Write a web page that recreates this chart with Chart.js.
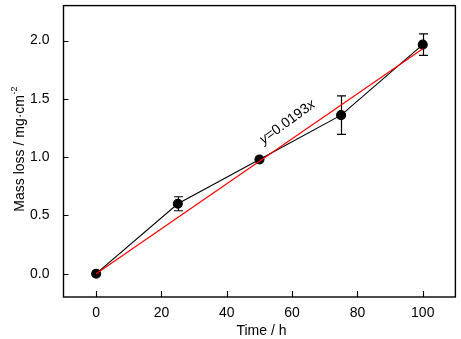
<!DOCTYPE html>
<html>
<head>
<meta charset="utf-8">
<script src="https://cdn.jsdelivr.net/npm/chart.js@4.4.1/dist/chart.umd.min.js"></script>
<style>
  html, body { margin: 0; padding: 0; background: #fff; }
  #wrap { width: 461px; height: 339px; }
</style>
</head>
<body>
<div id="wrap"><canvas id="c" width="461" height="339"></canvas></div>
<script>
// Mass loss measurements over time
const timeHours   = [0, 25, 50, 75, 100];
const massLoss    = [0.0, 0.60, 0.98, 1.36, 1.965];
const massLossErr = [0.0, 0.06, 0.0, 0.165, 0.092];

// Linear fit y = 0.0193x, drawn between its two end points
const fitLabelSlope = '0.0193';
const fitX = [0, 100];
const fitY = [0, 1.93];

// Axis ticks
const xTickValues = [0, 20, 40, 60, 80, 100];
const yTickValues = [0.0, 0.5, 1.0, 1.5, 2.0];

const FONT = '"Liberation Sans", Arial, sans-serif';
const AREA = { left: 63.5, top: 5, right: 455.5, bottom: 297 };

const framePlugin = {
  id: 'frame',
  beforeDatasetsDraw(chart) {
    const ctx = chart.ctx;
    const xs = chart.scales.x, ys = chart.scales.y;
    // error bars
    ctx.save();
    ctx.strokeStyle = '#000';
    ctx.lineWidth = 1.2;
    timeHours.forEach((t, i) => {
      const e = massLossErr[i];
      if (!e) return;
      const px = Math.round(xs.getPixelForValue(t)) + 0.5;
      const y1 = ys.getPixelForValue(massLoss[i] + e);
      const y2 = ys.getPixelForValue(massLoss[i] - e);
      ctx.beginPath();
      ctx.moveTo(px, y1); ctx.lineTo(px, y2);
      ctx.moveTo(px - 4.5, y1); ctx.lineTo(px + 4.5, y1);
      ctx.moveTo(px - 4.5, y2); ctx.lineTo(px + 4.5, y2);
      ctx.stroke();
    });
    ctx.restore();
  },
  afterDraw(chart) {
    const ctx = chart.ctx;
    const a = chart.chartArea;
    const xs = chart.scales.x, ys = chart.scales.y;
    ctx.save();
    ctx.strokeStyle = '#000';
    ctx.lineWidth = 1.4;
    ctx.strokeRect(a.left, a.top, a.right - a.left, a.bottom - a.top);
    // inward ticks
    ctx.lineWidth = 1.1;
    ctx.beginPath();
    xTickValues.forEach(v => {
      const px = Math.round(xs.getPixelForValue(v)) + 0.5;
      ctx.moveTo(px, a.bottom); ctx.lineTo(px, a.bottom - 6);
    });
    yTickValues.forEach(v => {
      const py = Math.round(ys.getPixelForValue(v)) + 0.5;
      ctx.moveTo(a.left, py); ctx.lineTo(a.left + 5, py);
    });
    ctx.stroke();

    // axis titles
    ctx.fillStyle = '#000';
    ctx.font = '14px ' + FONT;
    ctx.textAlign = 'center';
    ctx.textBaseline = 'alphabetic';
    ctx.fillText('Time / h', (a.left + a.right) / 2 + 2, 335);

    ctx.save();
    ctx.translate(24, (a.top + a.bottom) / 2);
    ctx.rotate(-Math.PI / 2);
    const main = 'Mass loss / mg\u00B7cm';
    const sup = '-2';
    ctx.font = '14px ' + FONT;
    const wMain = ctx.measureText(main).width;
    ctx.font = '9px ' + FONT;
    const wSup = ctx.measureText(sup).width;
    const start = -(wMain + wSup) / 2 + 2;
    ctx.textAlign = 'left';
    ctx.font = '14px ' + FONT;
    ctx.fillText(main, start, 0);
    ctx.font = '9px ' + FONT;
    ctx.fillText(sup, start + wMain + 0.5, -7);
    ctx.restore();

    // fit equation along the line
    const cx = xs.getPixelForValue(58.6);
    const cy = ys.getPixelForValue(1.30);
    ctx.save();
    ctx.translate(cx, cy);
    ctx.rotate(-36 * Math.PI / 180);
    ctx.textBaseline = 'middle';
    const parts = [
      { t: 'y', f: 'italic 14px ' + FONT },
      { t: '=' + fitLabelSlope, f: '14px ' + FONT },
      { t: 'x', f: 'italic 14px ' + FONT }
    ];
    let total = 0;
    parts.forEach(p => { ctx.font = p.f; p.w = ctx.measureText(p.t).width; total += p.w; });
    let xo = -total / 2;
    ctx.textAlign = 'left';
    parts.forEach(p => { ctx.font = p.f; ctx.fillText(p.t, xo, 0); xo += p.w; });
    ctx.restore();
    ctx.restore();
  }
};

new Chart(document.getElementById('c'), {
  type: 'scatter',
  data: {
    datasets: [
      {
        label: 'fit',
        data: fitX.map((x, i) => ({ x, y: fitY[i] })),
        showLine: true,
        borderColor: '#ff0000',
        borderWidth: 1.2,
        pointRadius: 0,
        order: 0
      },
      {
        label: 'mass loss',
        data: timeHours.map((x, i) => ({ x, y: massLoss[i] })),
        showLine: true,
        borderColor: '#000',
        borderWidth: 1.1,
        pointRadius: 4.5,
        pointBackgroundColor: '#000',
        pointBorderColor: '#000',
        order: 1
      }
    ]
  },
  options: {
    responsive: false,
    devicePixelRatio: 1,
    animation: false,
    layout: { padding: { left: 0, top: AREA.top, right: 461 - AREA.right, bottom: 0 } },
    plugins: { legend: { display: false }, tooltip: { enabled: false } },
    scales: {
      x: {
        type: 'linear',
        min: -10, max: 110,
        grid: { display: false },
        border: { display: false },
        afterBuildTicks(s) { s.ticks = xTickValues.map(v => ({ value: v })); },
        afterFit(s) {
          s.height = 339 - AREA.bottom;
          s.paddingLeft = 0; s.paddingRight = 0;
        },
        ticks: {
          color: '#000',
          font: { family: FONT, size: 14 },
          padding: 0,
          maxRotation: 0,
          callback: v => String(v)
        }
      },
      y: {
        type: 'linear',
        min: -0.2, max: 2.3,
        grid: { display: false },
        border: { display: false },
        afterBuildTicks(s) { s.ticks = yTickValues.map(v => ({ value: v })); },
        afterFit(s) {
          s.width = AREA.left;
          s.paddingTop = 0; s.paddingBottom = 0;
        },
        ticks: {
          color: '#000',
          font: { family: FONT, size: 14 },
          padding: 6,
          callback: v => Number(v).toFixed(1)
        }
      }
    }
  },
  plugins: [framePlugin]
});
</script>
</body>
</html>
